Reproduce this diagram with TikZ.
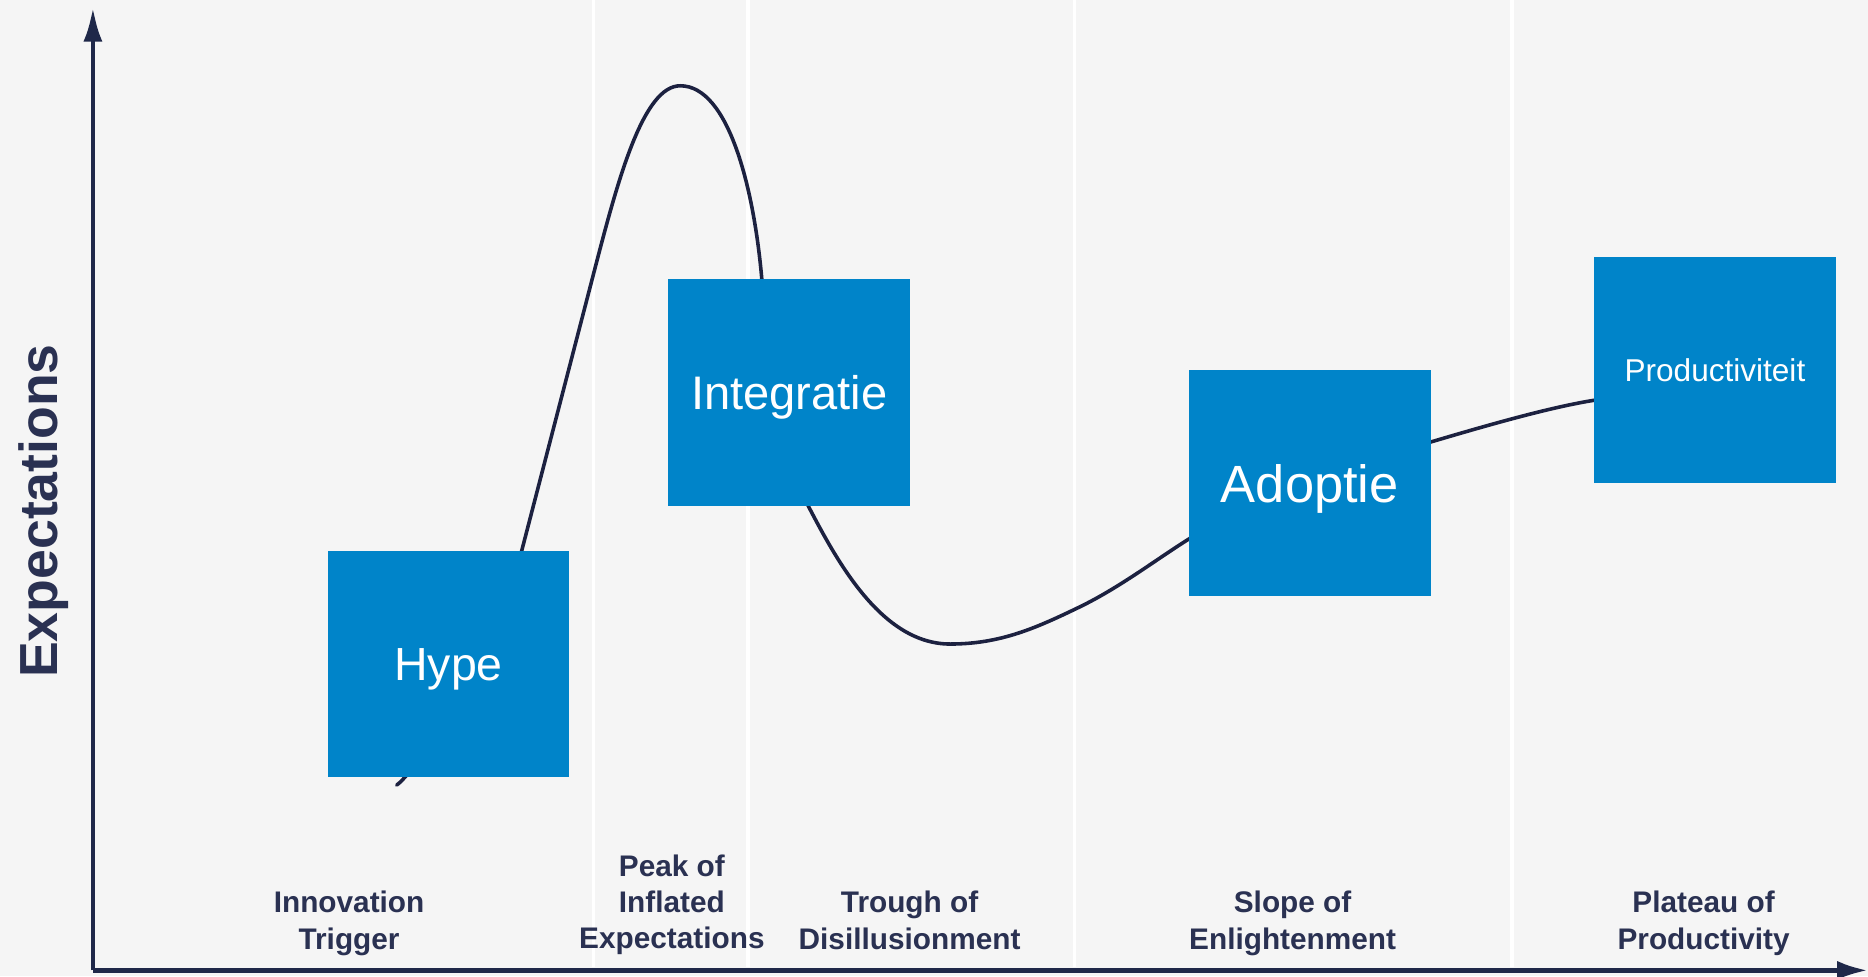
\documentclass[tikz,border=0pt]{standalone}
\usepackage{fontspec}
\setmainfont{Liberation Sans}
\usetikzlibrary{arrows.meta}
\definecolor{bg}{HTML}{F5F5F5}
\definecolor{axisnavy}{HTML}{1F2849}
\definecolor{curvenavy}{HTML}{1C2140}
\definecolor{lblnavy}{HTML}{2A3152}
\definecolor{boxblue}{HTML}{0084C9}
\begin{document}
\begin{tikzpicture}[x=1pt,y=-1pt,
  stagebox/.style={fill=boxblue, text=white, inner sep=0pt, text depth=0pt,
    minimum width=203pt, minimum height=190pt},
  phaselbl/.style={text=lblnavy, align=center, anchor=north, inner sep=0pt,
    font=\bfseries\fontsize{25}{30.5}\selectfont},
  sepline/.style={white, line width=3pt},
  axisline/.style={axisnavy, line width=4pt},
  hypecurve/.style={curvenavy, line width=3pt, line cap=round, line join=round}]
% background
\fill[bg] (0,0) rectangle (1568,819.3);
\useasboundingbox (0,0) rectangle (1568,819.3);
% band separators
\foreach \sx in {498,628,902,1269}{\draw[sepline] (\sx,0) -- (\sx,812);}
% axes
\coordinate (origin) at (78,814.5);
\coordinate (ytop) at (78,6);
\coordinate (xend) at (1568,814.5);
\draw[axisline, -{Latex[length=29pt,width=16pt]}] (origin) -- (ytop);
\draw[axisline, -{Latex[length=26pt,width=16pt]}] (origin) -- (xend);
% hype curve
\draw[hypecurve] (333,659)
  .. controls (357,641) and (423,520) .. (438,462)
  -- (500,223)
  .. controls (519,150) and (540,72) .. (571,72)
  .. controls (612,72) and (633,160) .. (639.4,233.6)
  .. controls (642.6,270.4) and (662.5,393.8) .. (678.5,424.8)
  .. controls (702.5,470.8) and (740,540.6) .. (797.5,540.6)
  .. controls (840,540.6) and (870,527) .. (906.6,509.3)
  .. controls (940,493) and (970,470) .. (997.5,452.7)
  .. controls (1050,420) and (1150,385) .. (1201,371)
  .. controls (1245,358) and (1300,342) .. (1338,336)
  .. controls (1360,332) and (1380,329) .. (1400,326);
% stage boxes
\node[stagebox, font=\fontsize{39}{39}\selectfont] (hype) at (376.5,557.5) {Hype};
\node[stagebox, font=\fontsize{39.5}{39.5}\selectfont] (integratie) at (662.5,329.5) {Integratie};
\node[stagebox, font=\fontsize{44}{44}\selectfont] (adoptie) at (1099.5,405.5) {Adoptie};
\node[stagebox, font=\fontsize{26.5}{26.5}\selectfont] (productiviteit) at (1439.5,310.5) {Productiviteit};
% y-axis title
\node[text=lblnavy, rotate=90, anchor=base, inner sep=0pt,
  font=\bfseries\fontsize{45}{45}\selectfont] (ylabel) at (48,429) {Expectations};
% phase labels
\node[phaselbl] (innovation) at (293,748) {Innovation\\Trigger};
\node[phaselbl] (peak) at (564,717) {Peak of\\Inflated\\Expectations};
\node[phaselbl] (trough) at (763.5,748) {Trough of\\Disillusionment};
\node[phaselbl] (slope) at (1085,748) {Slope of\\Enlightenment};
\node[phaselbl] (plateau) at (1430,748) {Plateau of\\Productivity};
\end{tikzpicture}
\end{document}
